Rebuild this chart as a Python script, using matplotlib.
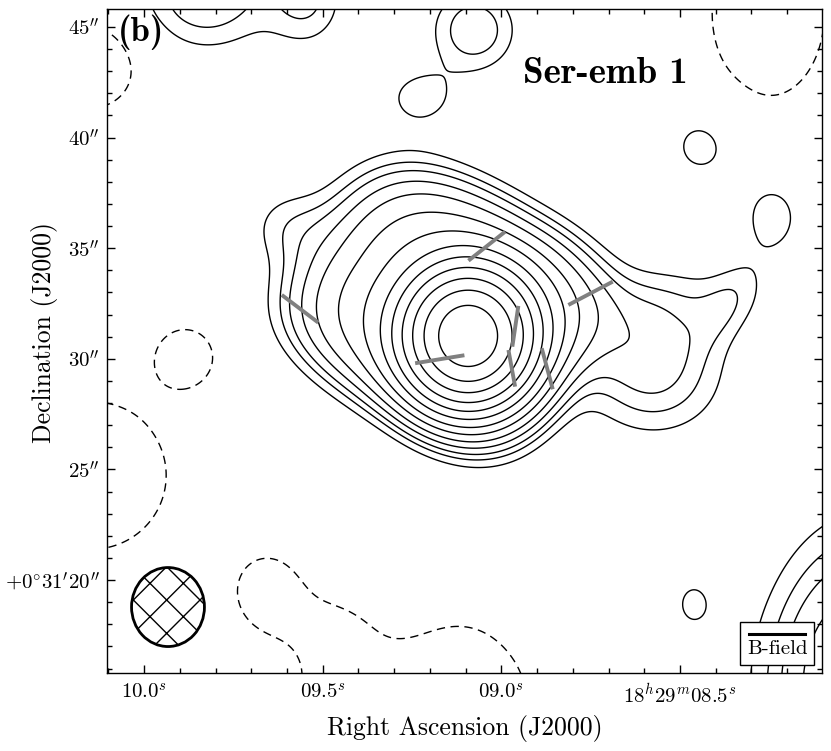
import numpy as np
import matplotlib
matplotlib.use("Agg")
import matplotlib.pyplot as plt
from matplotlib.patches import Ellipse
from matplotlib.lines import Line2D
from matplotlib.offsetbox import AnchoredOffsetbox, VPacker, TextArea, DrawingArea
from matplotlib.ticker import MultipleLocator, FixedLocator, FuncFormatter

plt.rcParams['mathtext.fontset'] = 'cm'
plt.rcParams['font.family'] = 'cmr10'
plt.rcParams['axes.formatter.use_mathtext'] = True
plt.rcParams['lines.dashed_pattern'] = [6, 4]

# ---------------- data ----------------
# phase centre (dust peak) : RA = 18h29m + ra0_s seconds, Dec = +0d31' + dec0_as arcsec
ra0_s = 9.093
dec0_as = 31.03
ra_lim = (10.1036, 8.1026)     # seconds of 18h29m
dec_lim = (15.80, 45.81)       # arcsec of +0d31'

rms = 1.0
levels_sigma = [-3, 3, 5, 7, 10, 14, 20, 28, 40, 56, 79, 112, 158, 224]

# Gaussian emission components (offsets in arcsec: west+, north+), amplitude in sigma
#          core  ridge  LR   Wknot shelf NEknot top   S1     S2   b1    b2    b3     b4
g_off_w = [0.0, 7.0, 7.8, 10.9, 8.5, -7.6, 0.25, -11.0, -6.8, -2.0, 9.82, 12.76, 9.45,
           -15.8, 12.6, -11.84, -15.8, -8.4, -3.0, -0.3, -5.5]
g_off_n = [0.0, 0.1, -2.2, 1.5, 1.8, 5.0, 13.83, 15.4, 15.2, 10.76, 8.63, 5.42, -12.12,
           12.2, 14.6, -0.90, -6.3, -11.6, -16.5, -15.6, -13.5]
g_amp = [273, 6.0, 6.0, 3.0, 2.5, 3.5, 6.8, 7.2, 5.2, 4.0, 4.0, 4.0, 3.3,
         -6, -6, -5, -5, -4.5, -6, -5, -4]
g_sig_a = [1.52, 2.2, 2.0, 1.5, 3.0, 1.2, 1.25, 1.9, 1.15, 1.16, 1.16, 1.05, 0.96,
           1.5, 2.0, 0.99, 3.09, 1.3, 3.2, 1.8, 1.5]
g_sig_b = [1.70, 1.5, 1.7, 0.75, 1.2, 1.2, 1.35, 1.7, 1.5, 1.02, 1.31, 1.43, 1.35,
           1.6, 3.2, 1.07, 3.3, 1.6, 1.5, 2.2, 1.3]
g_theta = [0, 0, 0, 60, 0, 0, 0, 0, 0, 0, 0, 0, 0,
           0, 0, 0, 0, 0, 0, 0, -35]

# flat-topped components: [envelope around the core, source at the SW corner]
p_off_w = [-0.4, 16.3]
p_off_n = [0.8, -15.5]
p_amp = [28.0, 13.0]
p_a_neg = [6.4, 8.0]
p_a_pos = [5.0, 6.5]
p_b_neg = [4.8, 3.8]
p_b_pos = [5.1, 3.8]
p_theta = [-32.0, 85.0]
p_q = [3.0, 2.0]
p_p = [4.0, 2.5]

# synthesized beam
beam_ra_s, beam_dec_as = 9.933, 18.78
beam_maj_as, beam_min_as, beam_pa = 3.57, 3.06, 0.0

# magnetic field segments (already rotated by 90 deg)
b_ra_s = [9.0409, 9.5634, 8.7504, 8.9609, 9.1724, 8.9709, 8.8716]
b_dec_as = [35.09, 32.26, 32.96, 31.47, 29.98, 29.57, 29.55]
b_pa_deg = [130.4, 50.8, 119.5, 172.2, 99.9, 9.6, 14.0]
b_len_as = [2.02, 1.98, 2.14, 1.86, 2.10, 1.68, 1.91]

x_ticks = [10.0, 9.5, 9.0, 8.5]
y_ticks = [20, 25, 30, 35, 40, 45]

# ---------------- model image ----------------
ra = np.linspace(8.0, 10.25, 600)
dec = np.linspace(14.5, 47.5, 800)
RA, DEC = np.meshgrid(ra, dec)
U = (ra0_s - RA) * 15.0
V = DEC - dec0_as


def gauss(u0, v0, amp, sa, sb, th):
    c, s = np.cos(np.radians(th)), np.sin(np.radians(th))
    du, dv = U - u0, V - v0
    a = du * c + dv * s
    b = -du * s + dv * c
    return amp * np.exp(-0.5 * ((a / sa) ** 2 + (b / sb) ** 2))


def plateau(u0, v0, amp, a_neg, a_pos, b_neg, b_pos, th, q, p):
    c, s = np.cos(np.radians(th)), np.sin(np.radians(th))
    du, dv = U - u0, V - v0
    m = du * c + dv * s
    n = -du * s + dv * c
    am = np.where(m < 0, a_neg, a_pos)
    bn = np.where(n < 0, b_neg, b_pos)
    rho = (np.abs(m / am) ** q + np.abs(n / bn) ** q) ** (1.0 / q)
    return amp * np.exp(-rho ** p)


img = np.zeros_like(U)
for i in range(len(p_amp)):
    img = img + plateau(p_off_w[i], p_off_n[i], p_amp[i], p_a_neg[i], p_a_pos[i],
                        p_b_neg[i], p_b_pos[i], p_theta[i], p_q[i], p_p[i])
for i in range(len(g_amp)):
    img = img + gauss(g_off_w[i], g_off_n[i], g_amp[i], g_sig_a[i], g_sig_b[i], g_theta[i])

# ---------------- figure ----------------
fig = plt.figure(figsize=(8.31, 7.51), dpi=100)
ax = fig.add_axes([0.1288, 0.1039, 0.8604, 0.8841])

lev = np.array(levels_sigma) * rms
neg = lev[lev < 0]
pos = lev[lev > 0]
ax.contour(RA, DEC, img, levels=neg, colors='k', linewidths=1.0, linestyles='dashed')
ax.contour(RA, DEC, img, levels=pos, colors='k', linewidths=1.0, linestyles='solid')

# B-field segments
for r0, d0, pa, L in zip(b_ra_s, b_dec_as, b_pa_deg, b_len_as):
    dn = 0.5 * L * np.cos(np.radians(pa))
    de = 0.5 * L * np.sin(np.radians(pa))
    ax.plot([r0 - de / 15.0, r0 + de / 15.0], [d0 - dn, d0 + dn],
            color='#808080', lw=2.8, solid_capstyle='butt', zorder=5)

# beam
beam = Ellipse((beam_ra_s, beam_dec_as), width=beam_min_as / 15.0, height=beam_maj_as,
               angle=beam_pa, facecolor='none', edgecolor='k', lw=2.0, hatch='x', zorder=6)
ax.add_patch(beam)

ax.set_xlim(*ra_lim)
ax.set_ylim(*dec_lim)
ax.set_aspect('auto')


def fmt_x(v, pos=None):
    if abs(v - 8.5) < 1e-6:
        return r'$18^{h}29^{m}08.5^{s}$'
    return r'$%s^{s}$' % ('%04.1f' % v)


def fmt_y(v, pos=None):
    if abs(v - 20) < 1e-6:
        return r'$+0^{\circ}31^{\prime}20^{\prime\prime}$'
    return r'$%d^{\prime\prime}$' % int(round(v))


ax.xaxis.set_major_locator(FixedLocator(x_ticks))
ax.xaxis.set_minor_locator(MultipleLocator(0.1))
ax.yaxis.set_major_locator(FixedLocator(y_ticks))
ax.yaxis.set_minor_locator(MultipleLocator(1))
ax.xaxis.set_major_formatter(FuncFormatter(fmt_x))
ax.yaxis.set_major_formatter(FuncFormatter(fmt_y))
ax.tick_params(which='both', direction='in', top=True, right=True, width=1.0, labelsize=15)
ax.tick_params(which='major', length=6)
ax.tick_params(which='minor', length=3.5)
ax.tick_params(axis='x', which='major', pad=7)
ax.tick_params(axis='y', which='major', pad=5)
for sp in ax.spines.values():
    sp.set_linewidth(1.0)

ax.set_xlabel('Right Ascension (J2000)', fontsize=18.5)
ax.set_ylabel('Declination (J2000)', fontsize=18.5)
ax.xaxis.set_label_coords(0.5, -0.064)
ax.yaxis.set_label_coords(-0.0685, 0.513)

ax.text(0.0154, 0.952, '(b)', transform=ax.transAxes, fontsize=25, family='cmb10',
        ha='left', va='baseline', zorder=7)
ax.text(0.697, 0.889, 'Ser-emb 1', transform=ax.transAxes, fontsize=26.5, family='cmb10',
        ha='center', va='baseline', zorder=7)

# legend box
da = DrawingArea(40, 7, 0, 0)
da.add_artist(Line2D([0, 40], [3.5, 3.5], color='k', lw=2.2))
txt = TextArea('B-field', textprops=dict(fontsize=15, family='cmr10'))
pack = VPacker(children=[da, txt], align='center', pad=0, sep=1)
box = AnchoredOffsetbox(loc='lower right', child=pack, pad=0.5, borderpad=0.55, frameon=True)
box.patch.set_boxstyle('square', pad=0)
box.patch.set_edgecolor('k')
box.patch.set_linewidth(1.0)
box.set_zorder(8)
ax.add_artist(box)

fig.savefig('out.png', dpi=100)
